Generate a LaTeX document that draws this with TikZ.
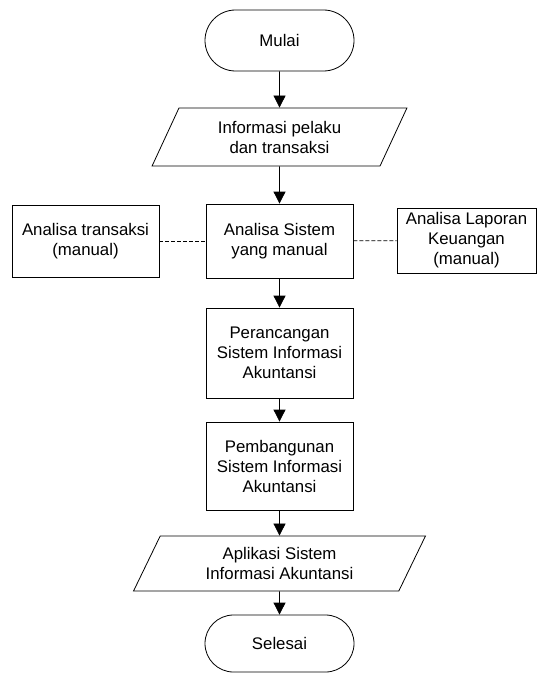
\documentclass[tikz,border=0pt]{standalone}
\usepackage{fontspec}
\setmainfont{Liberation Sans}
\usepackage{tikz}
\usetikzlibrary{shapes.geometric, shapes.misc, arrows.meta}
\tikzset{
	startstop/.style={rounded rectangle, minimum width=111.75pt, minimum height=45.75pt, inner sep=0pt, align=center, draw=black, line width=0.6pt},
	process/.style={rectangle, minimum width=110.25pt, inner sep=0pt, align=center, draw=black, line width=0.6pt},
	io/.style={trapezium, trapezium left angle=63, trapezium right angle=117, trapezium stretches=true, inner sep=0pt, align=center, draw=black, line width=0.6pt},
	arrow/.style={line width=0.6pt,-{Triangle[width=9pt,length=9pt]}},
	link/.style={line width=0.6pt, dash pattern=on 3pt off 1.5pt}
}

\begin{document}
\begin{tikzpicture}[x=0.75pt,y=-0.75pt,font=\fontsize{12.6}{15}\selectfont]
		\useasboundingbox (0,0) rectangle (537,674);
		
		% Nodes
		\node (start) [startstop] at (279.5,40.5) {Mulai};
		\node (input) [io, minimum width=191.25pt, minimum height=43.5pt] at (279.5,137) {Informasi pelaku\\dan transaksi};
		\node (step) [process, minimum height=55.5pt] at (279.5,241) {Analisa Sistem\\yang manual};
		\node (left) [process, minimum height=54pt] at (85.5,241) {Analisa transaksi\\(manual)};
		\node (right) [process, minimum width=104.25pt, minimum height=48.75pt] at (466.5,240.5) {Analisa Laporan\\Keuangan\\(manual)};
		\node (step1) [process, minimum height=67.5pt] at (279.5,353) {Perancangan\\Sistem Informasi\\Akuntansi};
		\node (step2) [process, minimum height=66pt] at (279.5,466) {Pembangunan\\Sistem Informasi\\Akuntansi};
		\node (output) [io, minimum width=219pt, minimum height=41.25pt] at (279.5,563.5) {Aplikasi Sistem\\Informasi Akuntansi};
		\node (end) [startstop, minimum height=42.75pt] at (279.5,643.5) {Selesai};
		
		% Arrows
		\draw [arrow] (start) -- (input);
		\draw [arrow] (input) -- (step);
		\draw [arrow] (step) -- (step1);
		\draw [arrow] (step1) -- (step2);
		\draw [arrow] (step2) -- (output);
		\draw [arrow] (output) -- (end);
		
		% Links
		\draw [link] (left) -- (step);
		\draw [link] (step) -- (right);
		
	\end{tikzpicture}
\end{document}
